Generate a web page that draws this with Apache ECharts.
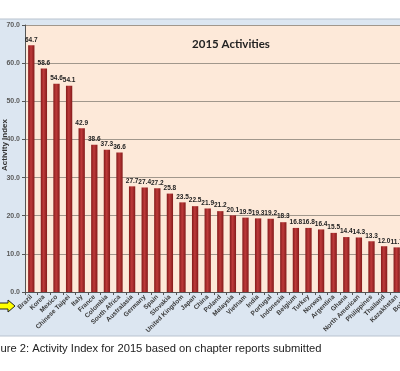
<!DOCTYPE html>
<html>
<head>
<meta charset="utf-8">
<script src="https://cdn.jsdelivr.net/npm/echarts@6/dist/echarts.min.js"></script>
<style>
html,body{margin:0;padding:0;width:400px;height:371px;overflow:hidden;background:#fff;}
#c{width:460px;height:371px;}
</style>
</head>
<body>
<div id="c"></div>
<script>
var categories = ['Brazil','Korea','Mexico','Chinese Taipei','Italy','France','Colombia','South Africa','Australasia','Germany','Spain','Slovakia','United Kingdom','Japan','China','Poland','Malaysia','Vietnam','India','Portugal','Indonesia','Belgium','Turkey','Norway','Argentina','Ghana','North American','Philippines','Thailand','Kazakhstan','Bolivia'];
var activityIndex = [64.7,58.6,54.6,54.1,42.9,38.6,37.3,36.6,27.7,27.4,27.2,25.8,23.5,22.5,21.9,21.2,20.1,19.5,19.3,19.2,18.3,16.8,16.8,16.4,15.5,14.4,14.3,13.3,12.0,11.7,11.0];
var yTicks = [0,10,20,30,40,50,60,70];
var titleText = '2015 Activities';
var yTitle = 'Activity Index';
var caption = 'Figure 2: Activity Index for 2015 based on chapter reports submitted';

var chart = echarts.init(document.getElementById('c'), null, {renderer:'canvas'});
var barColor = new echarts.graphic.LinearGradient(0,0,1,0,[
  {offset:0,color:'#841a1a'},
  {offset:0.45,color:'#be3a3a'},
  {offset:1,color:'#841a1a'}
]);
chart.setOption({
  animation:false,
  backgroundColor:'#ffffff',
  graphic:[
    {type:'rect',z:-10,shape:{x:-2,y:19,width:470,height:317},style:{fill:'#dce6f1',stroke:'#b9c3cf',lineWidth:1}},
    {type:'text',z:5,x:5,y:145,rotation:Math.PI/2,style:{text:yTitle,font:'bold 8px "Liberation Sans", Arial',fill:'#333',textAlign:'center',textVerticalAlign:'middle'}},
    {type:'polygon',z:5,shape:{points:[[-2,303],[8,303],[8,300],[15,306],[8,312],[8,309],[-2,309]]},style:{fill:'#ffff00',stroke:'#222',lineWidth:1}},
    {type:'text',z:5,x:-15,y:349,style:{text:caption,font:'11.2px "Liberation Sans", Arial',fill:'#222',textVerticalAlign:'middle'}}
  ],
  title:{text:titleText,left:226,top:33,textAlign:'center',textStyle:{fontFamily:'Lato',fontWeight:'bold',fontSize:11.5,color:'#222'}},
  grid:{left:25,top:25,right:44.4,bottom:79,show:true,backgroundColor:'#fde9d9',borderWidth:0},
  xAxis:{
    type:'category',data:categories,
    axisLine:{lineStyle:{color:'#555',width:1}},
    axisTick:{show:true,length:3,lineStyle:{color:'#555'}},
    axisLabel:{rotate:45,interval:0,margin:4,fontSize:6.5,fontWeight:'bold',color:'#3a3a3a',fontFamily:'"Liberation Sans", Arial'}
  },
  yAxis:{
    type:'value',min:0,max:70,interval:10,
    axisLine:{show:true,lineStyle:{color:'#555'}},
    axisTick:{show:true,length:3,lineStyle:{color:'#555'}},
    splitLine:{lineStyle:{color:'#a1978c',width:1}},
    axisLabel:{margin:5,fontSize:7,fontWeight:'bold',color:'#5a5a5a',fontFamily:'"Liberation Sans", Arial',formatter:function(v){return yTicks.indexOf(v)>=0?v.toFixed(1):'';}}
  },
  series:[{
    type:'bar',data:activityIndex,barCategoryGap:'50%',
    itemStyle:{color:barColor},
    label:{show:true,position:'top',distance:2,fontSize:6.5,fontWeight:'bold',color:'#222',fontFamily:'"Liberation Sans", Arial',formatter:function(p){return p.value.toFixed(1);}}
  }]
});
</script>
</body>
</html>
